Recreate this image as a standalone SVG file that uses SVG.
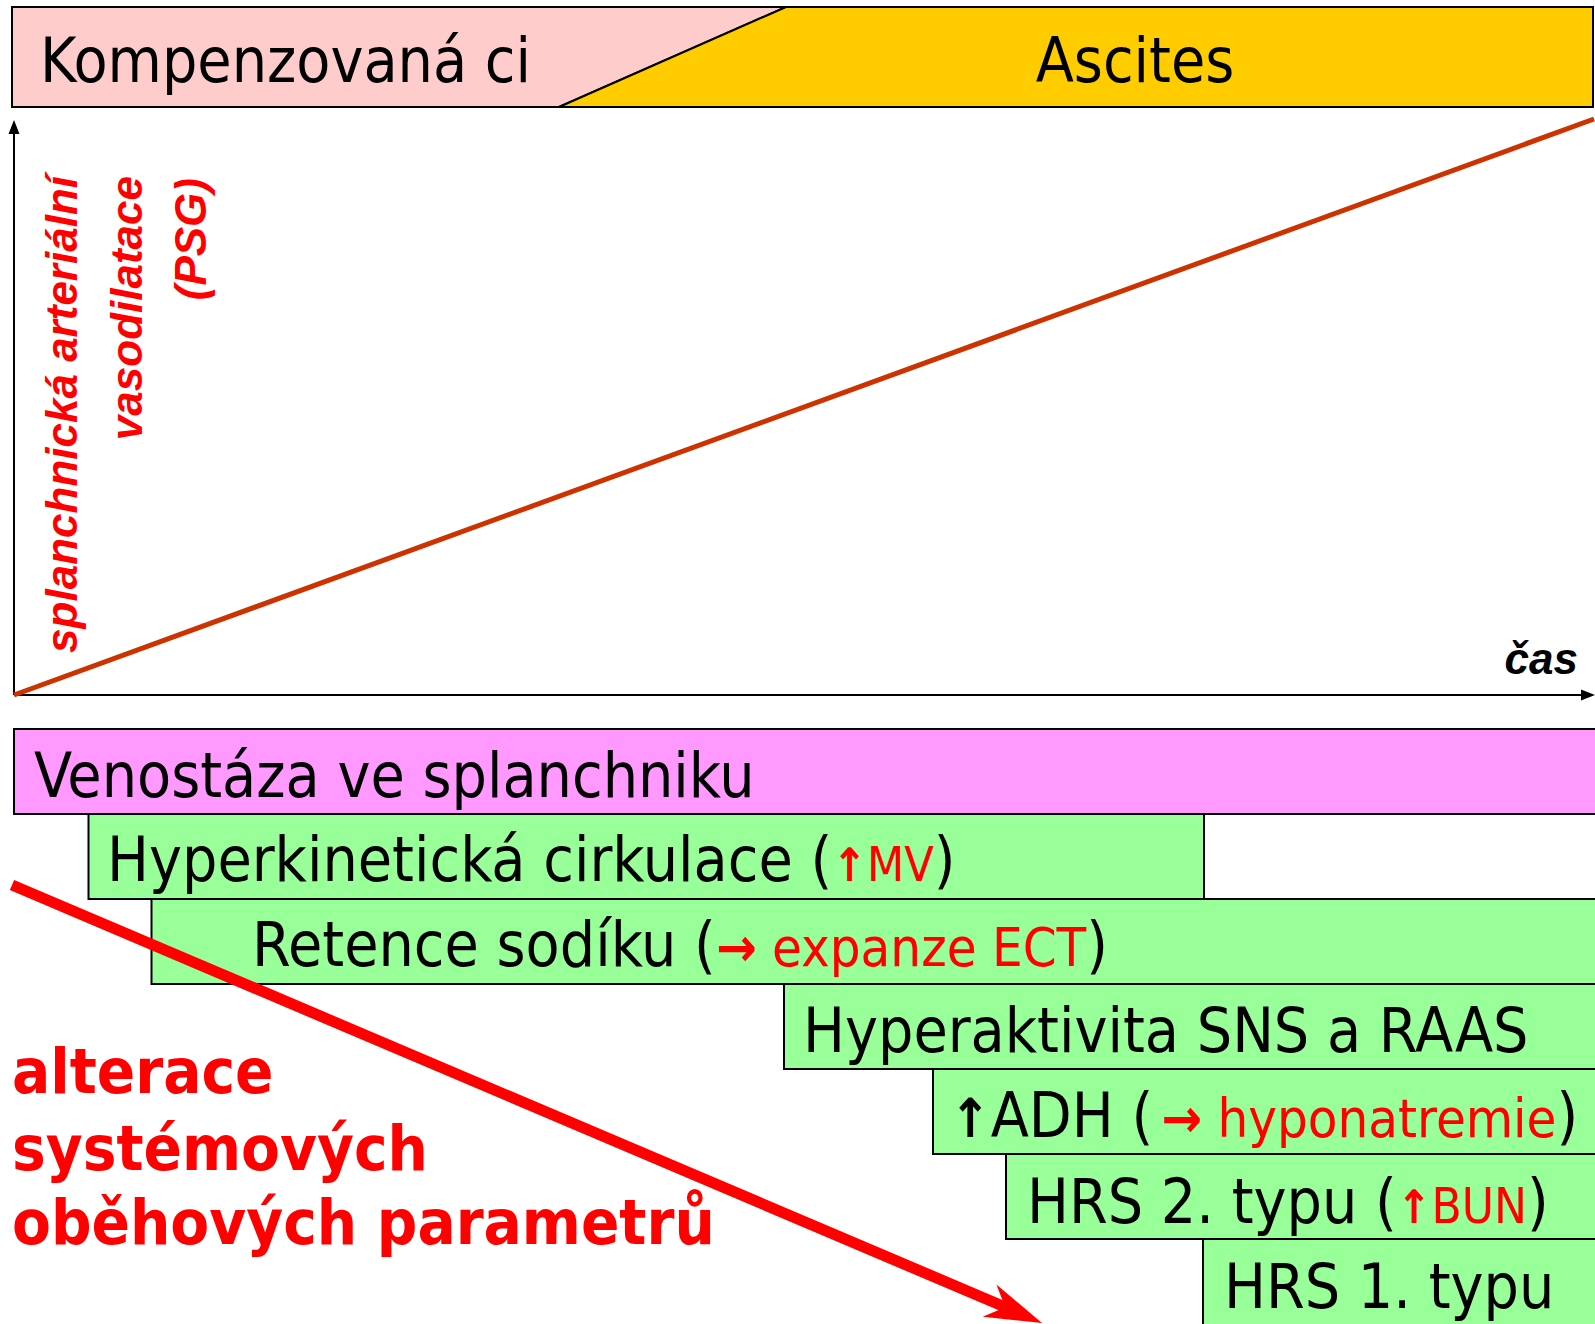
<svg xmlns="http://www.w3.org/2000/svg" width="1595" height="1324" viewBox="0 0 1595 1324">
  <style>
    .t { font-family: "DejaVu Sans Condensed", "DejaVu Sans", sans-serif; font-stretch: condensed; font-size: 62px; fill: #000; }
    .r { fill: #FF0000; }
    .arr { font-weight: bold; }
    .box { stroke: #000; stroke-width: 2; }
    .green { fill: #99FF99; }
    .ax { font-family: "Liberation Sans", Arial, sans-serif; font-weight: bold; font-style: italic; font-size: 44px; }
    .big { font-family: "DejaVu Sans Condensed", "DejaVu Sans", sans-serif; font-stretch: condensed; font-weight: bold; font-size: 63px; fill: #FF0000; }
  </style>
  <rect width="1595" height="1324" fill="#fff"/>

  <g id="stage-compensated">
    <polygon points="12,7 786,7 559,107 12,107" fill="#FFCCCC" class="box"/>
    <text class="t" x="40" y="82">Kompenzovaná ci</text>
  </g>
  <g id="stage-ascites">
    <polygon points="786,7 1593,7 1593,107 559,107" fill="#FFCC00" class="box"/>
    <text class="t" x="1135" y="82" text-anchor="middle">Ascites</text>
  </g>

  <g id="chart">
    <line x1="14" y1="695" x2="14" y2="132" stroke="#000" stroke-width="2"/>
    <polygon points="14,120 8.5,134 19.5,134" fill="#000"/>
    <line x1="14" y1="695" x2="1582" y2="695" stroke="#000" stroke-width="2"/>
    <polygon points="1595,695 1581,689.5 1581,700.5" fill="#000"/>
    <line x1="14" y1="695" x2="1594" y2="119" stroke="#CC3300" stroke-width="5"/>
    <g class="ax" fill="#FF0000" text-anchor="end">
      <text transform="translate(77,176) rotate(-90)">splanchnická arteriální</text>
      <text transform="translate(142,176) rotate(-90)">vasodilatace</text>
      <text transform="translate(206,178) rotate(-90)">(PSG)</text>
    </g>
    <text class="ax" x="1578" y="674" text-anchor="end" fill="#000">čas</text>
  </g>

  <g id="venostaza">
    <rect x="14" y="729" width="1590" height="85" fill="#FF99FF" class="box"/>
    <text class="t" x="34" y="797">Venostáza ve splanchniku</text>
  </g>
  <g id="hyperkineticka">
    <rect x="88.5" y="814" width="1115.5" height="85" class="green box"/>
    <text class="t" x="107" y="881">Hyperkinetická cirkulace (<tspan class="r arr" font-size="46">↑</tspan><tspan class="r" font-size="48">MV</tspan>)</text>
  </g>
  <g id="retence">
    <rect x="151.5" y="899" width="1450" height="85" class="green box"/>
    <text class="t" x="252" y="966">Retence sodíku (<tspan class="r arr" font-size="54">→</tspan><tspan class="r" font-size="54"> expanze ECT</tspan>)</text>
  </g>
  <g id="hyperaktivita">
    <rect x="784" y="984" width="820" height="85" class="green box"/>
    <text class="t" x="803" y="1052">Hyperaktivita SNS a RAAS</text>
  </g>
  <g id="adh">
    <rect x="933" y="1069" width="670" height="85" class="green box"/>
    <text class="t" x="950" y="1137"><tspan class="arr" font-size="54">↑</tspan>ADH (<tspan class="r arr" font-size="54" dx="8">→</tspan><tspan class="r" font-size="54"> hyponatremie</tspan>)</text>
  </g>
  <g id="hrs2">
    <rect x="1006" y="1154" width="600" height="85" class="green box"/>
    <text class="t" x="1027" y="1223">HRS 2. typu (<tspan class="r arr" font-size="46">↑</tspan><tspan class="r" font-size="49">BUN</tspan>)</text>
  </g>
  <g id="hrs1">
    <rect x="1203" y="1239" width="400" height="95" class="green box"/>
    <text class="t" x="1224" y="1308">HRS 1. typu</text>
  </g>

  <g id="alterace">
    <text class="big" x="12" y="1093">alterace</text>
    <text class="big" x="12" y="1170">systémových</text>
    <text class="big" x="12" y="1244">oběhových parametrů</text>
  </g>

  <g id="connectors">
    <line x1="12" y1="885" x2="1005" y2="1307" stroke="#FF0000" stroke-width="11"/>
    <polygon points="1042,1323 996.4,1284.6 1005.2,1307.3 982.7,1316.8" fill="#FF0000"/>
  </g>
</svg>
